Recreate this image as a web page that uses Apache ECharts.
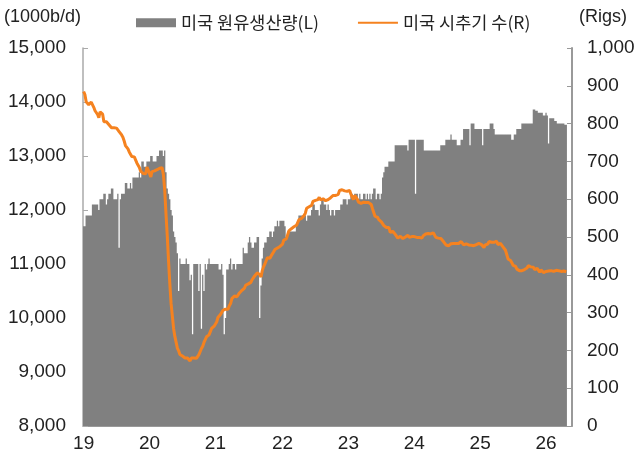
<!DOCTYPE html>
<html>
<head>
<meta charset="utf-8">
<script src="https://cdn.jsdelivr.net/npm/echarts@6/dist/echarts.min.js"></script>
<style>
  html, body { margin: 0; padding: 0; background: #fff; }
  #chart { width: 636px; height: 457px; }
</style>
</head>
<body>
<div id="chart"></div>
<script>
// 연도 / x축 눈금 라벨
const years = [2019, 2020, 2021, 2022, 2023, 2024, 2025, 2026]
const yearLabels = ['19', '20', '21', '22', '23', '24', '25', '26']

// 미국 원유생산량 (주간, 1000b/d)
const prod2019 = [11700, 11700, 11900, 11900, 11900, 11900, 11900, 12100, 12100, 12100, 12100, 12100, 12000, 12200, 12200, 12200, 12300, 12300, 12100, 12200, 12300, 12300, 12400, 12400, 12200, 12200, 12200, 12300, 11300, 12200, 12300, 12300, 12300, 12500, 12500, 12400, 12400, 12500, 12400, 12600, 12600, 12600, 12600, 12600, 12700, 12600, 12900, 12900, 12800, 12800, 12900, 12900]
const prod2020 = [12900, 13000, 13000, 12900, 12900, 12900, 13000, 13000, 13100, 13100, 13100, 13000, 13100, 12700, 12400, 12300, 12200, 12000, 11900, 11600, 11500, 11400, 11200, 10500, 11100, 11000, 11000, 11000, 11000, 11100, 11000, 11000, 10700, 10800, 9700, 11000, 11000, 11000, 11000, 10500, 11000, 9800, 10800, 10500, 11000, 10900, 11000, 11100, 11000, 11000, 11000, 11000]
const prod2021 = [11000, 11000, 11000, 10900, 10900, 11000, 10800, 9700, 10000, 10900, 10900, 11000, 11100, 10900, 11000, 11000, 10900, 11000, 11000, 11000, 11000, 11000, 11300, 11200, 11200, 11200, 11400, 11500, 11400, 11300, 11300, 11400, 11400, 11500, 11500, 10000, 10600, 11100, 11300, 11400, 11400, 11500, 11500, 11600, 11600, 11500, 11600, 11700, 11700, 11800, 11700, 11800, 11800]
const prod2022 = [11800, 11800, 11700, 11500, 11600, 11600, 11600, 11600, 11600, 11600, 11600, 11700, 11800, 11900, 11900, 11900, 11900, 11900, 11900, 11800, 11900, 11900, 11900, 12000, 12100, 12100, 12000, 12000, 12000, 11900, 12100, 12200, 12200, 12100, 12100, 12000, 12100, 12000, 11900, 12000, 12000, 11900, 12000, 12000, 12000, 12000, 12100, 12100, 12200, 12200, 12200, 12100]
const prod2023 = [12200, 12200, 12300, 12300, 12200, 12300, 12300, 12300, 12200, 12300, 12200, 12200, 12300, 12300, 12200, 12300, 12200, 12300, 12200, 12300, 12400, 12400, 12200, 12300, 12300, 12200, 12300, 12600, 12700, 12800, 12800, 12800, 12900, 12900, 12900, 12900, 12900, 13200, 13200, 13200, 13200, 13200, 13200, 13200, 13200, 13200, 13200, 13100, 13300, 13300, 13300, 13300]
const prod2024 = [13300, 12300, 13300, 13300, 13300, 13300, 13300, 13300, 13100, 13100, 13100, 13100, 13100, 13100, 13100, 13100, 13100, 13100, 13100, 13100, 13100, 13200, 13200, 13200, 13200, 13300, 13300, 13300, 13300, 13400, 13300, 13300, 13300, 13300, 13200, 13200, 13200, 13300, 13300, 13500, 13500, 13500, 13500, 13500, 13200, 13600, 13600, 13600, 13500, 13500, 13500, 13500]
const prod2025 = [13500, 13500, 13200, 13500, 13500, 13500, 13500, 13500, 13600, 13600, 13600, 13500, 13400, 13400, 13400, 13400, 13400, 13400, 13400, 13400, 13400, 13400, 13400, 13400, 13400, 13300, 13300, 13400, 13400, 13500, 13500, 13500, 13500, 13600, 13600, 13600, 13600, 13600, 13600, 13600, 13600, 13600, 13862, 13862, 13840, 13840, 13800, 13800, 13800, 13800, 13750, 13750]
const prod2026 = [13800, 13750, 13230, 13700, 13700, 13700, 13700, 13650, 13650, 13600, 13600, 13600, 13600, 13600, 13600, 13580, 13580]

// 미국 시추기 수 (주간, Rigs)
const rigs2019 = [885, 877, 858, 862, 850, 854, 857, 853, 843, 834, 833, 824, 816, 831, 833, 825, 805, 807, 805, 802, 797, 800, 789, 788, 789, 793, 788, 784, 779, 776, 770, 764, 754, 742, 738, 733, 725, 719, 713, 710, 712, 713, 696, 691, 684, 674, 671, 668, 663, 667, 685, 677]
const rigs2020 = [677, 659, 673, 676, 675, 676, 678, 679, 682, 682, 683, 664, 624, 562, 504, 438, 378, 325, 292, 258, 237, 222, 206, 199, 189, 188, 185, 181, 180, 181, 180, 176, 172, 180, 180, 180, 180, 179, 183, 189, 193, 205, 211, 221, 226, 236, 231, 241, 246, 258, 263, 264]
const rigs2021 = [267, 275, 287, 289, 295, 299, 306, 305, 309, 310, 309, 318, 324, 337, 337, 344, 343, 342, 344, 352, 356, 359, 359, 365, 373, 372, 376, 378, 380, 387, 385, 397, 397, 405, 410, 401, 394, 411, 421, 428, 433, 445, 443, 444, 450, 454, 461, 467, 467, 471, 475, 475, 480]
const rigs2022 = [481, 492, 491, 495, 497, 516, 520, 522, 519, 527, 524, 531, 533, 546, 548, 549, 552, 557, 563, 576, 574, 580, 580, 584, 594, 595, 597, 599, 599, 605, 598, 601, 601, 605, 596, 591, 599, 602, 604, 602, 610, 612, 610, 610, 613, 623, 627, 625, 627, 622, 622, 621]
const rigs2023 = [618, 623, 613, 609, 599, 610, 607, 600, 592, 590, 589, 593, 592, 590, 591, 591, 591, 588, 586, 575, 570, 555, 556, 552, 546, 545, 540, 537, 530, 529, 525, 520, 525, 512, 513, 515, 515, 507, 502, 497, 501, 502, 504, 496, 498, 500, 503, 505, 499, 503, 501, 501]
const rigs2024 = [501, 499, 499, 499, 499, 499, 497, 503, 506, 508, 510, 509, 506, 508, 506, 511, 506, 499, 496, 497, 497, 496, 492, 488, 485, 479, 479, 477, 477, 482, 482, 483, 483, 483, 483, 483, 486, 488, 484, 479, 481, 482, 480, 479, 479, 478, 479, 477, 482, 480, 483, 483]
const rigs2025 = [482, 480, 478, 472, 479, 480, 481, 488, 486, 486, 487, 486, 484, 489, 480, 481, 483, 479, 474, 473, 465, 461, 442, 439, 438, 432, 425, 424, 422, 415, 410, 411, 412, 411, 412, 414, 416, 418, 424, 420, 421, 418, 420, 414, 414, 417, 419, 407, 413, 414, 406, 409]
const rigs2026 = [409, 412, 410, 411, 411, 412, 409, 407, 412, 410, 411, 410, 409, 411, 410, 410, 408]

const prodByYear = [prod2019, prod2020, prod2021, prod2022, prod2023, prod2024, prod2025, prod2026]
const rigsByYear = [rigs2019, rigs2020, rigs2021, rigs2022, rigs2023, rigs2024, rigs2025, rigs2026]

// 주간 카테고리, 각 연도 첫 주에만 라벨
const categories = []
const prod = []
const rigs = []
const yearStart = {}
prodByYear.forEach((arr, k) => {
  yearStart[categories.length] = yearLabels[k]
  arr.forEach((v, i) => {
    categories.push(years[k] + '-W' + (i + 1))
    prod.push(v)
    rigs.push(rigsByYear[k][i])
  })
})
// 마지막 데이터 뒤 빈 여백
for (let i = 0; i < 4; i++) categories.push('')

const FONT = '"Liberation Sans", "Noto Sans CJK KR", sans-serif'
const KFONT = '"Noto Sans CJK KR", "Liberation Sans", sans-serif'

const chart = echarts.init(document.getElementById('chart'), null, { renderer: 'canvas' })

chart.setOption({
  animation: false,
  backgroundColor: '#fff',
  textStyle: { fontFamily: FONT, color: '#222' },
  legend: {
    top: 9,
    left: 131,
    itemWidth: 40,
    itemHeight: 9,
    itemGap: 38,
    textStyle: { fontFamily: KFONT, fontSize: 17.5, color: '#222' },
    data: [
      { name: '미국 원유생산량(L)', icon: 'rect' },
      { name: '미국 시추기 수(R)', itemStyle: { opacity: 0 } },
    ],
  },
  graphic: [
    { type: 'text', left: 4, top: 8, style: { text: '(1000b/d)', font: '18px "Liberation Sans", sans-serif', fill: '#222' } },
    { type: 'text', left: 579, top: 8, style: { text: '(Rigs)', font: '18px "Liberation Sans", sans-serif', fill: '#222' } },
  ],
  grid: { left: 83, right: 64, top: 48, bottom: 31, outerBoundsMode: 'none' },
  xAxis: {
    type: 'category',
    data: categories,
    boundaryGap: true,
    axisLine: { show: true, lineStyle: { color: '#999', width: 1 } },
    axisTick: { show: false },
    axisLabel: {
      interval: (idx) => yearStart[idx] !== undefined,
      formatter: (v, idx) => yearStart[idx] || '',
      fontSize: 19,
      color: '#222',
      margin: 8,
    },
    splitLine: { show: false },
  },
  yAxis: [
    {
      type: 'value',
      min: 8000,
      max: 15000,
      interval: 1000,
      axisLine: { show: true, lineStyle: { color: '#aaa', width: 1.5 } },
      axisTick: { show: true, inside: true, length: 5, lineStyle: { color: '#aaa' } },
      axisLabel: { fontSize: 19, color: '#222', margin: 17 },
      splitLine: { show: false },
    },
    {
      type: 'value',
      min: 0,
      max: 1000,
      interval: 100,
      position: 'right',
      axisLine: { show: true, lineStyle: { color: '#999', width: 2 } },
      axisTick: { show: true, inside: true, length: 5, lineStyle: { color: '#999' } },
      axisLabel: { fontSize: 19, color: '#222', margin: 15 },
      splitLine: { show: false },
    },
  ],
  series: [
    {
      name: '미국 원유생산량(L)',
      type: 'bar',
      data: prod,
      large: true,
      largeThreshold: 100,
      clip: true,
      barCategoryGap: '0%',
      itemStyle: { color: '#808080' },
    },
    {
      name: '미국 시추기 수(R)',
      type: 'line',
      yAxisIndex: 1,
      data: rigs,
      symbol: 'none',
      showSymbol: false,
      smooth: false,
      lineStyle: { width: 3, color: '#F5821F' },
      itemStyle: { color: '#F5821F' },
      z: 3,
    },
  ],
})
</script>
</body>
</html>
